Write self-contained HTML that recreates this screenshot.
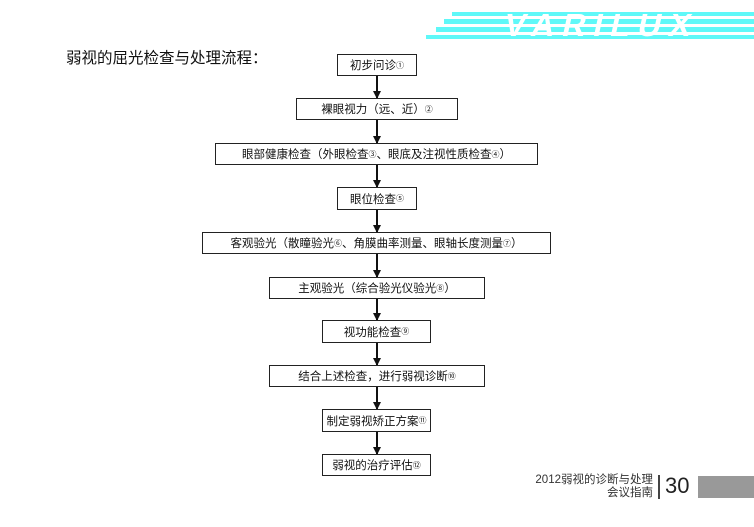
<!DOCTYPE html>
<html><head><meta charset="utf-8"><style>
body{margin:0;width:754px;height:527px;background:#fff;position:relative;overflow:hidden;font-family:"Liberation Sans","Noto Sans CJK SC",sans-serif;}
.b{position:absolute;border:1.3px solid #222;box-sizing:border-box;display:flex;align-items:center;justify-content:center;font-size:11.5px;color:#111;white-space:nowrap}
.b sup{font-size:8px;vertical-align:5px}
.s{position:absolute;background:#5ff8f8}
</style></head><body>
<div class="s" style="left:452px;top:12px;width:302px;height:4px"></div>
<div class="s" style="left:444px;top:19px;width:310px;height:5px"></div>
<div class="s" style="left:436px;top:27px;width:318px;height:5px"></div>
<div class="s" style="left:426px;top:35px;width:328px;height:4px"></div>
<div style="position:absolute;left:505px;top:9px;font:bold 32px 'Liberation Sans',sans-serif;color:#fff;letter-spacing:8px;line-height:32px;transform:skewX(-12deg)">VARILUX</div>
<div style="position:absolute;left:66px;top:46px;font-size:15.5px;color:#111">弱视的屈光检查与处理流程：</div>
<svg width="754" height="527" style="position:absolute;left:0;top:0">
<defs><marker id="a" markerWidth="8" markerHeight="8" refX="7" refY="4" orient="auto" markerUnits="userSpaceOnUse"><path d="M0,0L8,4L0,8z" fill="#111"/></marker></defs>
<g stroke="#111" stroke-width="2" marker-end="url(#a)">
<line x1="377" y1="76" x2="377" y2="98"/><line x1="377" y1="120" x2="377" y2="143"/>
<line x1="377" y1="165" x2="377" y2="187"/><line x1="377" y1="210" x2="377" y2="232"/>
<line x1="377" y1="254" x2="377" y2="277"/><line x1="377" y1="299" x2="377" y2="320"/>
<line x1="377" y1="343" x2="377" y2="365"/><line x1="377" y1="387" x2="377" y2="409"/>
<line x1="377" y1="432" x2="377" y2="454"/>
</g></svg>
<div class="b" style="left:337px;top:54px;width:80px;height:22px">初步问诊<sup>①</sup></div>
<div class="b" style="left:296px;top:98px;width:162px;height:22px">裸眼视力（远、近）<sup>②</sup></div>
<div class="b" style="left:215px;top:143px;width:323px;height:22px">眼部健康检查（外眼检查<sup>③</sup>、眼底及注视性质检查<sup>④</sup>）</div>
<div class="b" style="left:337px;top:187px;width:80px;height:23px">眼位检查<sup>⑤</sup></div>
<div class="b" style="left:202px;top:232px;width:349px;height:22px">客观验光（散瞳验光<sup>⑥</sup>、角膜曲率测量、眼轴长度测量<sup>⑦</sup>）</div>
<div class="b" style="left:269px;top:277px;width:216px;height:22px">主观验光（综合验光仪验光<sup>⑧</sup>）</div>
<div class="b" style="left:322px;top:320px;width:109px;height:23px">视功能检查<sup>⑨</sup></div>
<div class="b" style="left:269px;top:365px;width:216px;height:22px">结合上述检查，进行弱视诊断<sup>⑩</sup></div>
<div class="b" style="left:322px;top:409px;width:109px;height:23px">制定弱视矫正方案<sup>⑪</sup></div>
<div class="b" style="left:322px;top:454px;width:109px;height:22px">弱视的治疗评估<sup>⑫</sup></div>
<div style="position:absolute;right:101px;top:474px;font-size:11.5px;color:#333;text-align:right;line-height:13px">2012弱视的诊断与处理<br>会议指南</div>
<div style="position:absolute;left:658px;top:475px;width:1.5px;height:24px;background:#444"></div>
<div style="position:absolute;left:665px;top:472px;font-size:22px;color:#222;line-height:28px">30</div>
<div style="position:absolute;left:698px;top:476px;width:56px;height:22px;background:#999"></div>
</body></html>
